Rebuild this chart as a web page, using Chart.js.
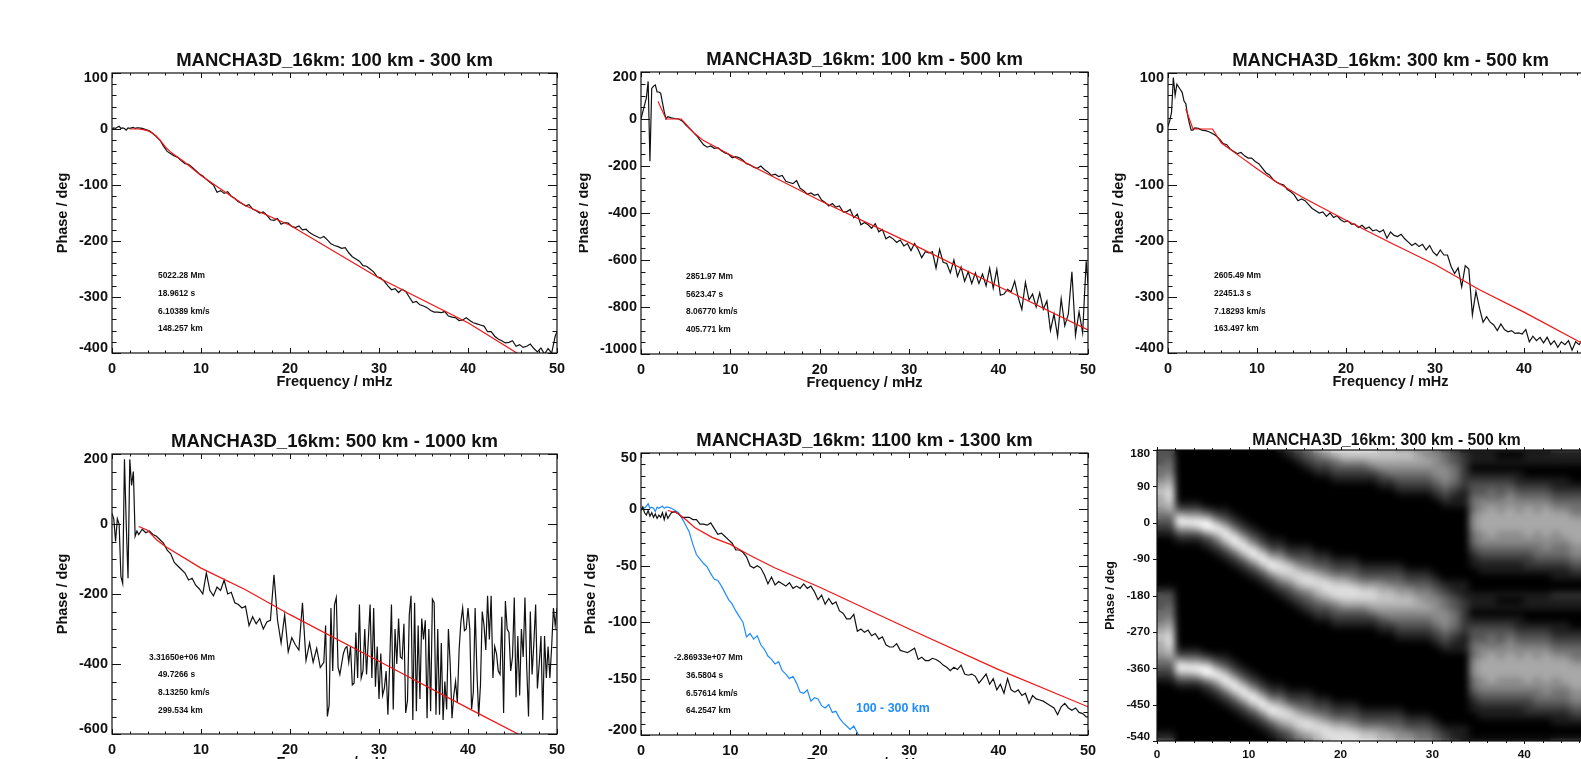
<!DOCTYPE html>
<html>
<head>
<meta charset="utf-8">
<title>MANCHA3D_16km phase spectra</title>
<script src="https://cdn.jsdelivr.net/npm/chart.js@4/dist/chart.umd.js"></script>
<style>
  html, body { margin: 0; padding: 0; background: #fff; width: 1581px; height: 759px; overflow: hidden; }
  canvas { position: absolute; }
</style>
</head>
<body>
<script>
// frequency grid shared by the black curves, mHz
const freqGrid = [
  0, 0.2, 0.4, 0.6, 0.8, 1, 1.2, 1.4, 1.6, 1.8, 2, 2.2, 2.4, 2.6, 2.8, 3,
  3.4, 3.8, 4.2, 4.6, 5, 5.4, 5.8, 6.2, 6.6, 7, 7.4, 7.8, 8.2, 8.6, 9, 9.4, 9.8, 10.2, 10.6, 11, 11.4, 11.8, 12.2, 12.6, 13,
  13.4, 13.8, 14.2, 14.6, 15, 15.4, 15.8, 16.2, 16.6, 17, 17.4, 17.8, 18.2, 18.6, 19, 19.4, 19.8, 20.2, 20.6, 21, 21.4, 21.8, 22.2, 22.6, 23,
  23.4, 23.8, 24.2, 24.6, 25, 25.4, 25.8, 26.2, 26.6, 27, 27.4, 27.8, 28.2, 28.6, 29, 29.4, 29.8, 30.2, 30.6, 31, 31.4, 31.8, 32.2, 32.6, 33,
  33.4, 33.8, 34.2, 34.6, 35, 35.4, 35.8, 36.2, 36.6, 37, 37.4, 37.8, 38.2, 38.6, 39, 39.4, 39.8, 40.2, 40.6, 41, 41.4, 41.8, 42.2, 42.6, 43,
  43.4, 43.8, 44.2, 44.6, 45, 45.4, 45.8, 46.2, 46.6, 47, 47.4, 47.8, 48.2, 48.6, 49, 49.4, 49.8, 50
];
// the 500-1000 km curve is too noisy above 24 mHz for the shared grid
const freqGrid500to1000 = [
  0, 0.2, 0.4, 0.6, 0.8, 1, 1.2, 1.4, 1.6, 1.8, 2, 2.2, 2.4, 2.6, 2.8, 3,
  3.4, 3.8, 4.2, 4.6, 5, 5.4, 5.8, 6.2, 6.6, 7, 7.4, 7.8, 8.2, 8.6, 9, 9.4, 9.8, 10.2, 10.6, 11, 11.4, 11.8, 12.2, 12.6, 13,
  13.4, 13.8, 14.2, 14.6, 15, 15.4, 15.8, 16.2, 16.6, 17, 17.4, 17.8, 18.2, 18.6, 19, 19.4, 19.8, 20.2, 20.6, 21, 21.4, 21.8, 22.2, 22.6, 23,
  23.4, 23.8,
  24, 24.2, 24.4, 24.6, 24.8, 25, 25.2, 25.4, 25.6, 25.8, 26, 26.2, 26.4, 26.6, 26.8, 27, 27.2, 27.4, 27.6, 27.8,
  28, 28.2, 28.4, 28.6, 28.8, 29, 29.2, 29.4, 29.6, 29.8, 30, 30.2, 30.4, 30.6, 30.8, 31, 31.2, 31.4, 31.6, 31.8,
  32, 32.2, 32.4, 32.6, 32.8, 33, 33.2, 33.4, 33.6, 33.8, 34, 34.2, 34.4, 34.6, 34.8, 35, 35.2, 35.4, 35.6, 35.8,
  36, 36.2, 36.4, 36.6, 36.8, 37, 37.2, 37.4, 37.6, 37.8, 38, 38.2, 38.4, 38.6, 38.8, 39, 39.2, 39.4, 39.6, 39.8,
  40, 40.2, 40.4, 40.6, 40.8, 41, 41.2, 41.4, 41.6, 41.8, 42, 42.2, 42.4, 42.6, 42.8, 43, 43.2, 43.4, 43.6, 43.8,
  44, 44.2, 44.4, 44.6, 44.8, 45, 45.2, 45.4, 45.6, 45.8, 46, 46.2, 46.4, 46.6, 46.8, 47, 47.2, 47.4, 47.6, 47.8,
  48, 48.2, 48.4, 48.6, 48.8, 49, 49.2, 49.4, 49.6, 49.8, 50
];

const phase100to300 = [
  0, 2, 1, 3, 5, 1, 2, 1, -2, 2, 1, 2, 3, 1, 2, 2,
  1, -1, -3, -8, -14, -20, -31, -40, -44, -48, -51, -57, -62, -63, -68, -74, -80, -84, -90, -95, -100, -113, -110, -115, -112,
  -120, -124, -130, -133, -137, -135, -143, -146, -150, -148, -154, -162, -163, -160, -170, -167, -168, -174, -176, -173, -180, -179, -185, -189, -192,
  -195, -192, -198, -205, -208, -210, -213, -212, -221, -228, -232, -236, -244, -245, -250, -255, -264, -266, -272, -280, -287, -285, -292, -286, -290,
  -300, -310, -308, -314, -316, -319, -324, -327, -327, -328, -326, -334, -336, -337, -342, -341, -337, -342, -346, -348, -350, -352, -362, -362, -370,
  -375, -378, -382, -381, -378, -388, -385, -390, -388, -384, -392, -398, -391, -402, -392, -400, -370, -362
];
const phase100to500 = [
  0, 30, 60, 90, 160, -180, 130, 140, 145, 115, 115, 110, 70, 30, 0, 10,
  5, 2, 0, -8, -25, -40, -55, -70, -90, -110, -120, -115, -125, -122, -135, -145, -150, -165, -160, -165, -175, -190, -195, -205, -210,
  -200, -215, -225, -240, -235, -245, -240, -265, -270, -275, -262, -295, -305, -320, -315, -325, -320, -345, -355, -370, -360, -375, -370, -395, -395,
  -385, -420, -405, -450, -440, -450, -465, -445, -480, -470, -510, -500, -510, -525, -515, -540, -530, -560, -530, -555, -590, -565, -570, -565, -635,
  -555, -610, -615, -655, -600, -670, -630, -690, -650, -700, -655, -700, -660, -710, -635, -720, -640, -750, -745, -725, -735, -690, -760, -810, -695,
  -770, -745, -800, -740, -810, -775, -900, -830, -925, -765, -880, -830, -650, -920, -820, -910, -605, -700
];
const phase300to500 = [
  5, 15, 30, 92, 60, 80, 75, 70, 65, 50, 45, 25, 10, -2, -2, 2,
  1, -2, -3, -5, -8, -12, -18, -26, -28, -36, -40, -44, -42, -48, -52, -52, -58, -62, -70, -78, -82, -90, -95, -98, -100,
  -108, -112, -118, -128, -125, -128, -135, -142, -146, -150, -148, -156, -150, -158, -155, -162, -166, -164, -170, -170, -176, -172, -178, -175, -182,
  -180, -184, -180, -195, -184, -190, -192, -188, -196, -202, -208, -204, -210, -206, -216, -208, -220, -226, -216, -225, -225, -245, -258, -248, -282,
  -244, -250, -332, -290, -320, -345, -335, -345, -350, -360, -348, -358, -362, -360, -365, -364, -366, -358, -380, -370, -378, -372, -382, -372, -385,
  -378, -390, -380, -385, -378, -395, -380, -385, -375, -388, -380, -385, -378, -384, -390, -380, -385, -388
];
const phase500to1000 = [
  30, 15, -50, 15, 0, -150, -170, 185, 0, -155, 185, 110, 150, -35, -20, -30,
  -15, -25, -20, -30, -35, -45, -55, -75, -85, -110, -120, -130, -140, -160, -155, -175, -185, -200, -140, -190, -205, -180, -190, -160, -200,
  -195, -225, -230, -240, -235, -290, -265, -285, -270, -300, -280, -275, -145, -275, -340, -260, -365, -325, -345, -360, -225, -390, -340, -395, -355,
  -410, -395,
  -290, -550, -517, -240, -420, -230, -210, -410, -430, -400, -370, -355, -350, -395, -350, -460, -455, -310, -440, -230,
  -440, -420, -300, -430, -330, -230, -440, -240, -465, -350, -500, -370, -490, -470, -420, -545, -400, -230, -530, -300,
  -400, -270, -380, -385, -285, -540, -505, -260, -205, -560, -225, -535, -290, -500, -270, -330, -275, -555, -300, -535,
  -215, -225, -545, -300, -545, -340, -560, -450, -530, -300, -400, -555, -490, -450, -510, -360, -280, -240, -305, -300,
  -240, -300, -530, -480, -240, -420, -550, -460, -250, -290, -360, -205, -330, -205, -440, -350, -370, -420, -430, -265,
  -540, -220, -300, -310, -420, -380, -210, -495, -320, -490, -300, -380, -210, -410, -550, -250, -430, -340, -230, -470,
  -400, -320, -560, -320, -440, -350, -440, -350, -240, -290, -240
];
const phase1100to1300 = [
  -1, 2, -3, -5, -1, -6, -3, -7, -4, -8, -5, -7, -3, -9, -3, -8,
  -3, -2, -4, -7, -7, -7, -9, -9, -13, -13, -14, -12, -17, -22, -21, -24, -27, -30, -36, -36, -38, -42, -50, -52, -50,
  -52, -58, -66, -60, -67, -64, -66, -68, -65, -70, -68, -70, -66, -70, -68, -73, -80, -76, -84, -79, -84, -82, -90, -92, -97,
  -97, -93, -108, -106, -109, -107, -112, -110, -115, -113, -120, -122, -122, -119, -125, -126, -127, -125, -123, -133, -131, -134, -134, -132, -133,
  -135, -138, -140, -143, -140, -142, -138, -146, -147, -146, -148, -154, -150, -146, -155, -150, -160, -155, -163, -150, -160, -162, -160, -165, -163,
  -172, -165, -168, -169, -170, -172, -174, -176, -182, -175, -172, -176, -178, -176, -180, -181, -184, -184
];

const fitFreq100to300 = [2, 3, 3.5, 4, 4.5, 5, 5.5, 6, 6.5, 7, 8, 10, 12, 15, 20, 30, 40, 46];
const fitPhase100to300 = [0, 0, -1, -3, -7, -13, -22, -32, -40, -46, -57, -83, -105, -137, -172, -266, -346, -405];
const fitFreq100to500 = [1.9, 2.8, 4.5, 6, 7, 10, 20, 30, 40, 50];
const fitPhase100to500 = [75, 0, 0, -62, -92, -153, -347, -526, -713, -898];
const fitFreq300to500 = [2, 2.8, 5, 6, 8, 10, 12, 15, 20, 25, 30, 35, 40, 46, 50];
const fitPhase300to500 = [36, 0, 0, -25, -48, -71, -93, -121, -163, -203, -242, -287, -327, -378, -410];
const fitFreq500to1000 = [3, 4, 5, 6, 10, 15, 20, 30, 40, 46];
const fitPhase500to1000 = [-7, -18, -45, -64, -126, -188, -259, -392, -526, -605];
const fitFreq1100to1300 = [3, 4, 5, 6, 8, 10, 12, 15, 20, 30, 40, 50];
const fitPhase1100to1300 = [-1, -3, -9, -16, -25, -31, -40, -52, -69, -106, -142, -175];

// fit results printed inside the panels
const notes100to300 = ['5022.28 Mm', '18.9612 s', '6.10389 km/s', '148.257 km'];
const notes100to500 = ['2851.97 Mm', '5623.47 s', '8.06770 km/s', '405.771 km'];
const notes300to500 = ['2605.49 Mm', '22451.3 s', '7.18293 km/s', '163.497 km'];
const notes500to1000 = ['3.31650e+06 Mm', '49.7266 s', '8.13250 km/s', '299.534 km'];
const notes1100to1300 = ['-2.86933e+07 Mm', '36.5804 s', '6.57614 km/s', '64.2547 km'];

// grey level 0-9 per phase bin (180 down to -165, 15 deg steps), one string per 1 mHz column
const heatColumns = [
  '333445676654321000000001', '334456788764321000000001', '000000000137963100000000', '000000000136963100000000',
  '000000000136973100000000', '000000000025995210000000', '000000000013697421000000', '000000000012479742100000',
  '000000000001247974210000', '000000000000124797421000', '000000000000012479742100', '000000000000001247974210',
  '000000000000000124797421', '100000000000000124688642', '210000000000000012478753', '321000000000000012357875',
  '432100000000000012346886', '643210000000000001235787', '753210000000000001234688', '864321000000000000123578',
  '875321000000000000123578', '875321000000000000123468', '875321000000000000012357', '876421000000000000012357',
  '776532100000000000012356', '776542100000000000012346', '676543210000000000012345', '676543210000000000001235',
  '566543210000000000001234', '556543210000000000001234', '455554321000000000000123', '344555432100000000000012',
  '233444321100000000000011', '122222211100000000000011', '111012334445554432110000', '111012334556665543211000',
  '111012344566666543211000', '101012334556665543211000', '101012345566665543211000', '101011234556665543211000',
  '111001234566666543221000', '111001234556665544321000', '111001234566666554321000', '211001123456665544321100',
  '211001123456666544321100', '211000123445666655432100', '211000123445666655432100', '211000112345566665432110',
  '321000112345566665432110', '321000012345566665543210'
];
const heatFreqs = [
  0.5, 1.5, 2.5, 3.5, 4.5, 5.5, 6.5, 7.5, 8.5, 9.5, 10.5, 11.5, 12.5, 13.5, 14.5, 15.5, 16.5, 17.5, 18.5, 19.5, 20.5, 21.5, 22.5, 23.5, 24.5,
  25.5, 26.5, 27.5, 28.5, 29.5, 30.5, 31.5, 32.5, 33.5, 34.5, 35.5, 36.5, 37.5, 38.5, 39.5, 40.5, 41.5, 42.5, 43.5, 44.5, 45.5, 46.5, 47.5, 48.5, 49.5
];
const heatPhases = [180, 165, 150, 135, 120, 105, 90, 75, 60, 45, 30, 15, 0, -15, -30, -45, -60, -75, -90, -105, -120, -135, -150, -165];

const FONT = '"Liberation Sans", Arial, sans-serif';
const INK = '#111';
const RED = '#f01414';
const BLUE = '#1e8cff';

const zip = (xs, ys) => xs.map((x, i) => ({ x: x, y: ys[i] }));

function lineSet(xs, ys, color) {
  return { data: zip(xs, ys), showLine: true, borderColor: color, borderWidth: 1.2, pointRadius: 0, tension: 0 };
}

// one flat cell per grey level, used as point style for the image panel
const cellSprites = [];
for (let v = 0; v < 10; v++) {
  const c = document.createElement('canvas');
  c.width = 10;
  c.height = 7;
  const g = c.getContext('2d');
  const level = v * 28;
  g.fillStyle = 'rgb(' + level + ',' + level + ',' + level + ')';
  g.fillRect(0, 0, 10, 7);
  cellSprites.push(c);
}

function heatPoints() {
  const pts = [];
  // the picture shows the wrapped phase twice, 360 deg apart
  [0, -360].forEach(shift => {
    heatColumns.forEach((col, i) => {
      heatPhases.forEach((p, j) => {
        pts.push({ x: heatFreqs[i], y: p + shift, v: +col[j] });
      });
    });
  });
  heatColumns.forEach((col, i) => {
    pts.push({ x: heatFreqs[i], y: -540, v: +col[0] });
  });
  return pts;
}

const frameAndTicks = {
  id: 'frameAndTicks',
  beforeDraw(chart) {
    const shift = chart.options.plugins.frameAndTicks.edgeShift;
    const items = chart.scales.y.getLabelItems();
    if (!items.length || items.shifted) return;
    items[0].options.translation[1] -= shift;
    items[items.length - 1].options.translation[1] += shift;
    items.shifted = true;
  },
  afterDraw(chart) {
    const o = chart.options.plugins.frameAndTicks;
    const { ctx, chartArea: a, scales } = chart;
    ctx.save();
    ctx.strokeStyle = INK;
    ctx.lineWidth = 1.2;
    ctx.strokeRect(a.left, a.top, a.right - a.left, a.bottom - a.top);
    ctx.lineWidth = 1;
    ctx.beginPath();
    for (let v = scales.x.min; v <= scales.x.max + 1e-6; v += o.xMinor) {
      const major = Math.abs(v / 10 - Math.round(v / 10)) < 1e-6;
      const len = major ? o.xMajorLen : o.xMinorLen;
      const px = Math.round(scales.x.getPixelForValue(v)) + 0.5;
      // image panel has its ticks on the outside
      ctx.moveTo(px, a.top);
      ctx.lineTo(px, a.top + (o.outside ? -len : len));
      ctx.moveTo(px, a.bottom);
      ctx.lineTo(px, a.bottom + (o.outside ? len : -len));
    }
    const yMajor = scales.y.options.ticks.stepSize;
    for (let v = scales.y.min; v <= scales.y.max + 1e-6; v += o.yMinor) {
      const k = (v - scales.y.min) / yMajor;
      const major = Math.abs(k - Math.round(k)) < 1e-6;
      const len = major ? o.yMajorLen : o.yMinorLen;
      const py = Math.round(scales.y.getPixelForValue(v)) + 0.5;
      ctx.moveTo(a.left, py);
      ctx.lineTo(a.left + (o.outside ? -len : len), py);
      if (!o.outside) {
        ctx.moveTo(a.right, py);
        ctx.lineTo(a.right - len, py);
      }
    }
    ctx.stroke();

    const cv = chart.canvas.getBoundingClientRect();
    ctx.textBaseline = 'middle';
    ctx.textAlign = 'left';
    (o.notes || []).forEach(n => {
      ctx.fillStyle = n.color || INK;
      ctx.font = 'bold ' + (n.size || 8.4) + 'px ' + FONT;
      ctx.fillText(n.text, n.x - cv.left, n.y - cv.top);
    });
    ctx.restore();
  }
};

// image panel: black ground under the cells, then a soft pass over them
const imageGround = {
  id: 'imageGround',
  beforeDatasetsDraw(chart) {
    if (!chart.options.plugins.imageGround.on) return;
    const a = chart.chartArea;
    chart.ctx.save();
    chart.ctx.fillStyle = '#000';
    chart.ctx.fillRect(a.left, a.top, a.right - a.left, a.bottom - a.top);
    chart.ctx.restore();
  },
  afterDatasetsDraw(chart) {
    if (!chart.options.plugins.imageGround.on) return;
    const { ctx, chartArea: a, canvas } = chart;
    const w = a.right - a.left, h = a.bottom - a.top;
    ctx.save();
    ctx.beginPath();
    ctx.rect(a.left, a.top, w, h);
    ctx.clip();
    ctx.filter = 'blur(3.5px)';
    ctx.drawImage(canvas, a.left, a.top, w, h, a.left, a.top, w, h);
    ctx.restore();
  }
};

Chart.register(frameAndTicks, imageGround);
Chart.defaults.animation = false;

function noteRows(lines, xFirst, xRest, ys) {
  return lines.map((t, i) => ({ text: t, x: i === 0 ? xFirst : xRest, y: ys[i] }));
}

const panels = [
  {
    title: 'MANCHA3D_16km: 100 km - 300 km', box: [112, 73, 557, 353], titleY: 61, yTitleX: 63,
    yMin: -400, yMax: 100, yStep: 100, yMinor: 20,
    datasets: [lineSet(fitFreq100to300, fitPhase100to300, RED), lineSet(freqGrid, phase100to300, INK)],
    notes: noteRows(notes100to300, 158, 158, [276, 294, 312, 329])
  },
  {
    title: 'MANCHA3D_16km: 100 km - 500 km', box: [641, 72, 1088, 354], titleY: 59.5, yTitleX: 584,
    yMin: -1000, yMax: 200, yStep: 200, yMinor: 50,
    datasets: [lineSet(fitFreq100to500, fitPhase100to500, RED), lineSet(freqGrid, phase100to500, INK)],
    notes: noteRows(notes100to500, 686, 686, [277, 295, 312, 330])
  },
  {
    title: 'MANCHA3D_16km: 300 km - 500 km', box: [1168, 73, 1613, 353], titleY: 61, yTitleX: 1119,
    yMin: -400, yMax: 100, yStep: 100, yMinor: 20,
    datasets: [lineSet(fitFreq300to500, fitPhase300to500, RED), lineSet(freqGrid, phase300to500, INK)],
    notes: noteRows(notes300to500, 1214, 1214, [276, 294, 312, 329])
  },
  {
    title: 'MANCHA3D_16km: 500 km - 1000 km', box: [112, 454, 557, 734], titleY: 442, yTitleX: 63,
    yMin: -600, yMax: 200, yStep: 200, yMinor: 50,
    datasets: [lineSet(fitFreq500to1000, fitPhase500to1000, RED), lineSet(freqGrid500to1000, phase500to1000, INK)],
    notes: noteRows(notes500to1000, 149, 158, [658, 675, 693, 711])
  },
  {
    title: 'MANCHA3D_16km: 1100 km - 1300 km', box: [641, 453, 1088, 735], titleY: 441, yTitleX: 591,
    yMin: -200, yMax: 50, yStep: 50, yMinor: 10,
    datasets: [
      lineSet(fitFreq1100to1300, fitPhase1100to1300, RED),
      lineSet(freqGrid, phase1100to1300, INK),
      lineSet(freqGrid, phase100to300, BLUE)
    ],
    notes: noteRows(notes1100to1300, 674, 686, [658, 676, 694, 711]).concat([
      { text: '100 - 300 km', x: 856, y: 709, size: 12.4, color: BLUE }
    ])
  },
  {
    title: 'MANCHA3D_16km: 300 km - 500 km', box: [1157, 450, 1616, 741], titleY: 441, yTitleX: 1111,
    yMin: -540, yMax: 180, yStep: 90, yMinor: 90, image: true, titleSize: 15.7, tickSize: 11.8, labelSize: 12.3,
    datasets: [{
      data: heatPoints(),
      pointStyle: ctx => cellSprites[ctx.raw ? ctx.raw.v : 0],
      showLine: false
    }],
    notes: []
  }
];

const MARGIN_LEFT = 62, MARGIN_TOP = 40, MARGIN_BOTTOM = 50, MARGIN_RIGHT = 25;

panels.forEach(p => {
  const [l, t, r, b] = p.box;
  const cv = document.createElement('canvas');
  cv.width = r - l + MARGIN_LEFT + MARGIN_RIGHT;
  cv.height = b - t + MARGIN_TOP + MARGIN_BOTTOM;
  cv.style.left = (l - MARGIN_LEFT) + 'px';
  cv.style.top = (t - MARGIN_TOP) + 'px';
  cv.style.width = cv.width + 'px';
  cv.style.height = cv.height + 'px';
  document.body.appendChild(cv);

  const titleSize = p.titleSize || 18.5;
  const tickSize = p.tickSize || 14.5;
  const labelSize = p.labelSize || 14.5;
  const titleLine = titleSize * 1.2;
  const labelLine = labelSize * 1.2;
  const titleTop = p.titleY - (t - MARGIN_TOP) - titleLine / 2;

  new Chart(cv, {
    type: 'scatter',
    data: { datasets: p.datasets },
    options: {
      responsive: false,
      maintainAspectRatio: false,
      layout: { padding: { left: 0, right: MARGIN_RIGHT, top: 0, bottom: 0 } },
      scales: {
        x: {
          type: 'linear', min: 0, max: 50,
          grid: { display: false, drawTicks: false },
          border: { display: false },
          ticks: {
            stepSize: 10, maxRotation: 0, autoSkip: false, padding: 7, color: INK,
            font: { family: FONT, size: tickSize, weight: 'bold' },
            callback: v => String(v)
          },
          title: {
            display: true, text: 'Frequency / mHz', color: INK,
            font: { family: FONT, size: labelSize, weight: 'bold', lineHeight: 1.2 },
            padding: { top: 0, bottom: MARGIN_BOTTOM - 29 - labelLine / 2 }
          },
          afterFit(s) { s.height = MARGIN_BOTTOM; s.paddingLeft = 0; s.paddingRight = 0; }
        },
        y: {
          type: 'linear', min: p.yMin, max: p.yMax,
          grid: { display: false, drawTicks: false },
          border: { display: false },
          ticks: {
            stepSize: p.yStep, autoSkip: false, padding: p.image ? 7 : 4, color: INK,
            font: { family: FONT, size: tickSize, weight: 'bold' },
            callback: v => String(v)
          },
          title: {
            display: true, text: 'Phase / deg', color: INK,
            font: { family: FONT, size: labelSize, weight: 'bold', lineHeight: 1.2 },
            padding: { top: p.yTitleX - (l - MARGIN_LEFT) - labelLine / 2, bottom: 0 }
          },
          afterFit(s) { s.width = MARGIN_LEFT; s.paddingTop = 0; s.paddingBottom = 0; }
        }
      },
      plugins: {
        legend: { display: false },
        tooltip: { enabled: false },
        title: {
          display: true, text: p.title, color: INK, fullSize: false,
          font: { family: FONT, size: titleSize, weight: 'bold', lineHeight: 1.2 },
          padding: { top: titleTop, bottom: MARGIN_TOP - titleTop - titleLine }
        },
        imageGround: { on: !!p.image },
        frameAndTicks: p.image
          ? { outside: true, xMinor: 2, yMinor: p.yMinor, xMajorLen: 3, xMinorLen: 2, yMajorLen: 4, yMinorLen: 4, notes: p.notes, edgeShift: 4 }
          : { outside: false, xMinor: 2, yMinor: p.yMinor, xMajorLen: 5, xMinorLen: 2.5, yMajorLen: 9, yMinorLen: 4.5, notes: p.notes, edgeShift: 5 }
      }
    }
  });
});
</script>
</body>
</html>
